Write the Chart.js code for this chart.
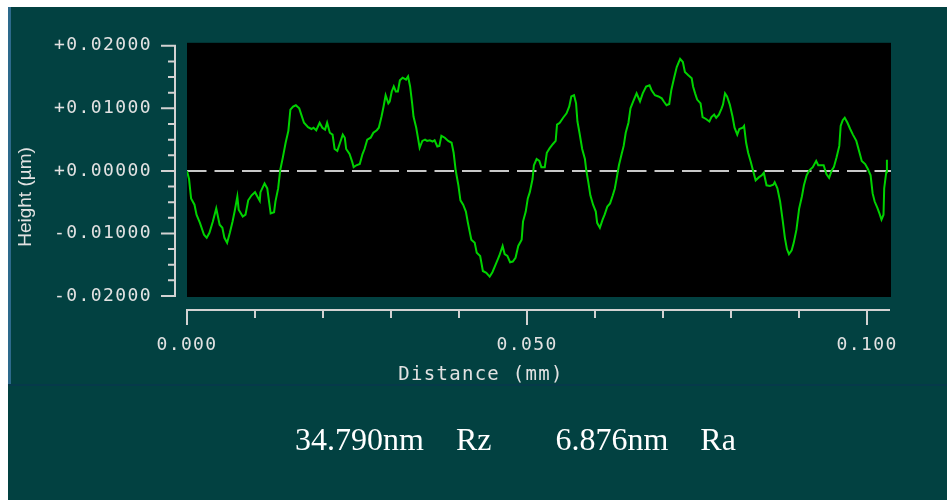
<!DOCTYPE html>
<html>
<head>
<meta charset="utf-8">
<title>Surface profile</title>
<script src="https://cdn.jsdelivr.net/npm/chart.js@4/dist/chart.umd.min.js"></script>
<style>
  html, body { margin: 0; padding: 0; background: #ffffff; }
  #page { position: relative; width: 947px; height: 500px; overflow: hidden; background: #ffffff; }
  #panel { position: absolute; left: 8px; top: 7px; width: 939px; height: 493px; background: #024141; }
  #edge { position: absolute; left: 8px; top: 7px; width: 3px; height: 378px; background: #2d6a8c; }
  #rule { position: absolute; left: 8px; top: 384px; width: 939px; height: 2px; background: #06394a; }
  #chart { position: absolute; left: 0; top: 0; }
  #stats { position: absolute; left: 295px; top: 423px; font: 32px "Liberation Serif", "Times New Roman", serif;
           line-height: 32px; color: #ffffff; white-space: pre; }
</style>
</head>
<body>
<div id="page">
  <div id="panel"></div>
  <div id="edge"></div>
  <div id="rule"></div>
  <canvas id="chart" width="947" height="500"></canvas>
  <div id="stats"></div>
</div>
<script>
// Profile trace: distance along the scan (mm) and surface height (µm)
const distanceMm = [
  0.0000, 0.0003, 0.0006, 0.0011, 0.0014, 0.0019, 0.0025, 0.0029, 0.0033, 0.0038,
  0.0043, 0.0048, 0.0052, 0.0055, 0.0059, 0.0063, 0.0067, 0.0070, 0.0074, 0.0076,
  0.0082, 0.0086, 0.0090, 0.0095, 0.0100, 0.0103, 0.0107, 0.0108, 0.0114, 0.0118,
  0.0121, 0.0123, 0.0128, 0.0130, 0.0134, 0.0137, 0.0141, 0.0145, 0.0149, 0.0152,
  0.0156, 0.0160, 0.0165, 0.0168, 0.0172, 0.0178, 0.0183, 0.0186, 0.0190, 0.0195,
  0.0199, 0.0203, 0.0206, 0.0210, 0.0214, 0.0217, 0.0221, 0.0225, 0.0229, 0.0232,
  0.0234, 0.0239, 0.0243, 0.0245, 0.0249, 0.0254, 0.0258, 0.0261, 0.0265, 0.0270,
  0.0274, 0.0279, 0.0282, 0.0286, 0.0289, 0.0292, 0.0296, 0.0298, 0.0301, 0.0304,
  0.0307, 0.0310, 0.0313, 0.0317, 0.0322, 0.0325, 0.0328, 0.0331, 0.0333, 0.0337,
  0.0340, 0.0342, 0.0346, 0.0350, 0.0353, 0.0357, 0.0361, 0.0364, 0.0368, 0.0371,
  0.0374, 0.0379, 0.0384, 0.0389, 0.0392, 0.0395, 0.0399, 0.0402, 0.0406, 0.0410,
  0.0413, 0.0418, 0.0423, 0.0426, 0.0431, 0.0435, 0.0440, 0.0445, 0.0449, 0.0454,
  0.0459, 0.0464, 0.0467, 0.0471, 0.0475, 0.0479, 0.0483, 0.0487, 0.0492, 0.0494,
  0.0498, 0.0501, 0.0504, 0.0508, 0.0510, 0.0514, 0.0518, 0.0521, 0.0526, 0.0529,
  0.0533, 0.0538, 0.0542, 0.0544, 0.0548, 0.0553, 0.0558, 0.0562, 0.0565, 0.0569,
  0.0572, 0.0574, 0.0577, 0.0581, 0.0585, 0.0587, 0.0590, 0.0593, 0.0597, 0.0601,
  0.0603, 0.0607, 0.0611, 0.0614, 0.0618, 0.0622, 0.0626, 0.0629, 0.0632, 0.0635,
  0.0639, 0.0642, 0.0645, 0.0649, 0.0652, 0.0656, 0.0661, 0.0666, 0.0670, 0.0675,
  0.0680, 0.0683, 0.0688, 0.0693, 0.0698, 0.0701, 0.0705, 0.0709, 0.0712, 0.0716,
  0.0720, 0.0725, 0.0729, 0.0732, 0.0737, 0.0742, 0.0744, 0.0747, 0.0750, 0.0755,
  0.0758, 0.0763, 0.0768, 0.0771, 0.0775, 0.0778, 0.0782, 0.0786, 0.0788, 0.0791,
  0.0794, 0.0798, 0.0802, 0.0805, 0.0809, 0.0812, 0.0817, 0.0819, 0.0822, 0.0825,
  0.0829, 0.0832, 0.0836, 0.0841, 0.0845, 0.0848, 0.0852, 0.0857, 0.0862, 0.0864,
  0.0868, 0.0872, 0.0876, 0.0879, 0.0882, 0.0885, 0.0889, 0.0892, 0.0896, 0.0900,
  0.0904, 0.0907, 0.0911, 0.0915, 0.0920, 0.0925, 0.0928, 0.0931, 0.0936, 0.0940,
  0.0944, 0.0948, 0.0951, 0.0955, 0.0959, 0.0961, 0.0964, 0.0967, 0.0971, 0.0975,
  0.0979, 0.0984, 0.0988, 0.0992, 0.0997, 0.1001, 0.1005, 0.1008, 0.1011, 0.1015,
  0.1018, 0.1021, 0.1024, 0.1025, 0.1028, 0.1029
];
const heightUm = [
   0.0000, -0.0013, -0.0044, -0.0054, -0.0070, -0.0083, -0.0102, -0.0107, -0.0099, -0.0081,
  -0.0060, -0.0086, -0.0091, -0.0107, -0.0115, -0.0099, -0.0081, -0.0065, -0.0041, -0.0062,
  -0.0073, -0.0070, -0.0047, -0.0039, -0.0034, -0.0040, -0.0048, -0.0034, -0.0020, -0.0028,
  -0.0052, -0.0068, -0.0066, -0.0049, -0.0028,  0.0001,  0.0022,  0.0045,  0.0064,  0.0098,
   0.0103,  0.0105,  0.0100,  0.0090,  0.0077,  0.0070,  0.0067,  0.0069,  0.0065,  0.0077,
   0.0069,  0.0066,  0.0077,  0.0061,  0.0058,  0.0035,  0.0032,  0.0045,  0.0058,  0.0053,
   0.0035,  0.0027,  0.0014,  0.0006,  0.0009,  0.0011,  0.0027,  0.0035,  0.0050,  0.0053,
   0.0061,  0.0065,  0.0069,  0.0087,  0.0103,  0.0121,  0.0108,  0.0111,  0.0127,  0.0135,
   0.0127,  0.0127,  0.0145,  0.0149,  0.0146,  0.0151,  0.0135,  0.0108,  0.0087,  0.0069,
   0.0050,  0.0037,  0.0048,  0.0050,  0.0048,  0.0049,  0.0047,  0.0049,  0.0039,  0.0040,
   0.0056,  0.0053,  0.0048,  0.0045,  0.0029,  0.0001, -0.0023, -0.0047, -0.0054, -0.0065,
  -0.0083, -0.0110, -0.0115, -0.0131, -0.0136, -0.0160, -0.0163, -0.0169, -0.0162, -0.0149,
  -0.0136, -0.0120, -0.0133, -0.0136, -0.0146, -0.0145, -0.0139, -0.0120, -0.0110, -0.0081,
  -0.0065, -0.0044, -0.0034, -0.0013,  0.0009,  0.0019,  0.0016,  0.0006,  0.0006,  0.0029,
   0.0036,  0.0043,  0.0048,  0.0074,  0.0077,  0.0085,  0.0092,  0.0103,  0.0119,  0.0121,
   0.0108,  0.0079,  0.0061,  0.0035,  0.0019,  0.0001, -0.0018, -0.0039, -0.0054, -0.0065,
  -0.0083, -0.0091, -0.0078, -0.0070, -0.0057, -0.0052, -0.0039, -0.0028, -0.0010,  0.0009,
   0.0027,  0.0040,  0.0061,  0.0077,  0.0100,  0.0111,  0.0124,  0.0111,  0.0124,  0.0135,
   0.0137,  0.0129,  0.0121,  0.0119,  0.0116,  0.0111,  0.0105,  0.0107,  0.0129,  0.0148,
   0.0166,  0.0179,  0.0174,  0.0158,  0.0153,  0.0148,  0.0135,  0.0124,  0.0114,  0.0108,
   0.0086,  0.0083,  0.0079,  0.0086,  0.0090,  0.0085,  0.0090,  0.0100,  0.0106,  0.0124,
   0.0119,  0.0106,  0.0087,  0.0069,  0.0058,  0.0067,  0.0069,  0.0072,  0.0045,  0.0029,
   0.0014,  0.0001, -0.0015, -0.0010, -0.0007, -0.0003, -0.0023, -0.0024, -0.0022, -0.0018,
  -0.0028, -0.0049, -0.0081, -0.0107, -0.0125, -0.0133, -0.0127, -0.0115, -0.0094, -0.0060,
  -0.0041, -0.0023, -0.0007,  0.0001,  0.0006,  0.0016,  0.0009,  0.0009,  0.0009, -0.0005,
  -0.0011,  0.0001,  0.0006,  0.0022,  0.0040,  0.0072,  0.0081,  0.0085,  0.0077,  0.0067,
   0.0058,  0.0048,  0.0032,  0.0016,  0.0011,  0.0003, -0.0007, -0.0036, -0.0049, -0.0059,
  -0.0068, -0.0078, -0.0070, -0.0028, -0.0002,  0.0018
];

// Axis ranges and tick values
const xRange = [0, 0.1035];
const yRange = [-0.02, 0.02];
const xTickValues = [0, 0.05, 0.1];
const yTickValues = [-0.02, -0.01, 0, 0.01, 0.02];
const xMinorStep = 0.01;
const yMinorStep = 0.0025;
const xTitle = 'Distance (mm)';
const yTitle = 'Height (µm)';

// Roughness readout shown under the graph
const rzText = '34.790nm';
const rzLabel = 'Rz';
const raText = '6.876nm';
const raLabel = 'Ra';
document.getElementById('stats').textContent =
  rzText + '    ' + rzLabel + '        ' + raText + '    ' + raLabel;

const axisColor = '#d2d2d2';
const textColor = '#e2e2e2';

// Black plotting field, detached axis rails with major/minor ticks, axis titles
const frame = {
  id: 'frame',
  beforeDraw(chart) {
    const { ctx, chartArea: a } = chart;
    ctx.letterSpacing = '1.4px';
    ctx.save();
    ctx.fillStyle = '#000000';
    ctx.fillRect(a.left, a.top - 3, a.right - a.left, a.bottom - a.top + 4);
    ctx.restore();
  },
  afterDraw(chart) {
    const { ctx, chartArea: a } = chart;
    const xs = chart.scales.x, ys = chart.scales.y;
    ctx.save();
    ctx.strokeStyle = axisColor;
    ctx.lineWidth = 2;
    ctx.lineCap = 'butt';

    // vertical rail left of the field
    const ax = Math.round(a.left - 12);
    const yTop = ys.getPixelForValue(yRange[1]);
    const yBot = ys.getPixelForValue(yRange[0]);
    ctx.beginPath();
    ctx.moveTo(ax, yTop - 1);
    ctx.lineTo(ax, yBot + 1);
    const nY = Math.round((yRange[1] - yRange[0]) / yMinorStep);
    for (let i = 0; i <= nY; i++) {
      const v = yRange[0] + i * yMinorStep;
      const major = yTickValues.some(t => Math.abs(t - v) < 1e-9);
      const py = ys.getPixelForValue(v);
      ctx.moveTo(ax - (major ? 14 : 7), py);
      ctx.lineTo(ax, py);
    }
    ctx.stroke();

    // horizontal rail under the field
    const ay = Math.round(a.bottom + 14);
    ctx.beginPath();
    ctx.moveTo(xs.getPixelForValue(xRange[0]) - 1, ay);
    ctx.lineTo(a.right - 1, ay);
    const nX = Math.floor((xRange[1] - xRange[0]) / xMinorStep + 1e-9);
    for (let i = 0; i <= nX; i++) {
      const v = xRange[0] + i * xMinorStep;
      const major = xTickValues.some(t => Math.abs(t - v) < 1e-9);
      const px = Math.round(xs.getPixelForValue(v));
      ctx.moveTo(px, ay);
      ctx.lineTo(px, ay + (major ? 15 : 8));
    }
    ctx.stroke();

    // axis titles
    ctx.fillStyle = textColor;
    ctx.letterSpacing = '1.3px';
    ctx.font = '19px "DejaVu Sans Mono", monospace';
    ctx.textAlign = 'center';
    ctx.textBaseline = 'alphabetic';
    ctx.fillText(xTitle, 481, 380);

    ctx.letterSpacing = '0px';
    ctx.font = '19px "Liberation Sans", Arial, sans-serif';
    ctx.translate(26, 197);
    ctx.rotate(-Math.PI / 2);
    ctx.textBaseline = 'middle';
    ctx.fillText(yTitle, 0, 0);
    ctx.restore();
  }
};

new Chart(document.getElementById('chart'), {
  type: 'scatter',
  data: {
    datasets: [
      {
        label: 'Height',
        data: distanceMm.map((d, i) => ({ x: d, y: heightUm[i] })),
        showLine: true,
        borderColor: '#00d200',
        borderWidth: 2,
        pointRadius: 0,
        tension: 0
      },
      {
        label: 'Mean line',
        data: [{ x: xRange[0], y: 0 }, { x: xRange[1], y: 0 }],
        showLine: true,
        borderColor: '#c8c8c8',
        borderWidth: 2,
        borderDash: [19.5, 8],
        pointRadius: 0
      }
    ]
  },
  options: {
    responsive: false,
    animation: false,
    devicePixelRatio: 1,
    layout: { padding: { left: 16, top: 42, right: 56, bottom: 0 } },
    plugins: { legend: { display: false }, tooltip: { enabled: false } },
    scales: {
      x: {
        type: 'linear',
        min: xRange[0],
        max: xRange[1],
        grid: { display: false, drawTicks: false },
        border: { display: false },
        afterBuildTicks(scale) { scale.ticks = xTickValues.map(v => ({ value: v })); },
        afterFit(scale) { scale.height = 204; },
        ticks: {
          autoSkip: false,
          maxRotation: 0,
          padding: 39,
          color: textColor,
          font: { family: '"DejaVu Sans Mono", monospace', size: 18 },
          callback: v => v.toFixed(3)
        }
      },
      y: {
        type: 'linear',
        min: yRange[0],
        max: yRange[1],
        grid: { display: false, drawTicks: false },
        border: { display: false },
        afterBuildTicks(scale) { scale.ticks = yTickValues.map(v => ({ value: v })); },
        afterFit(scale) { scale.width = 171; },
        ticks: {
          padding: 35,
          color: textColor,
          font: { family: '"DejaVu Sans Mono", monospace', size: 18 },
          callback: v => (v < -1e-12 ? '-' : '+') + Math.abs(v).toFixed(5)
        }
      }
    }
  },
  plugins: [frame]
});
</script>
</body>
</html>
